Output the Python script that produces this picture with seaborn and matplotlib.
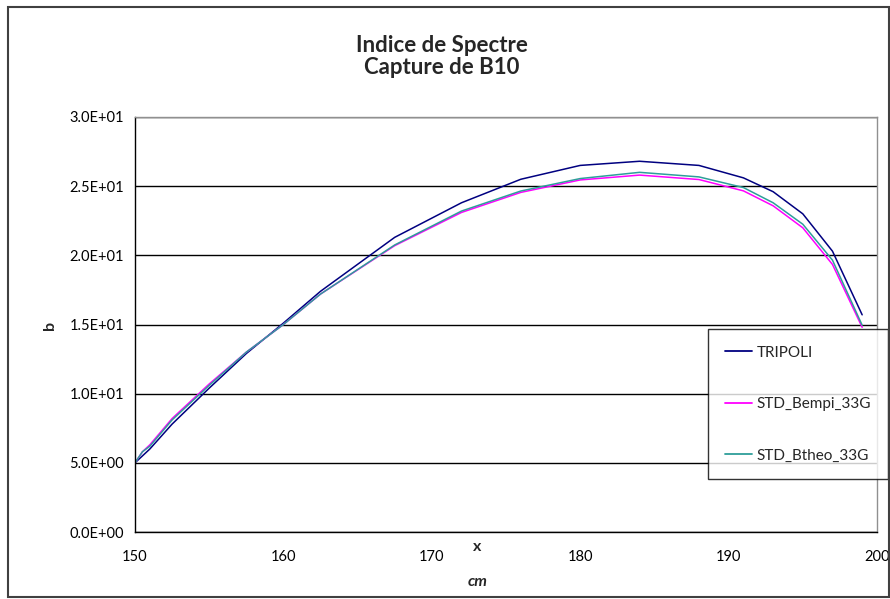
import pandas as pd
import seaborn as sns
import matplotlib.pyplot as plt
from matplotlib.patches import Rectangle
from matplotlib.ticker import FuncFormatter

# Data
x_cm = [150, 150.5, 151, 152.5, 155, 157.5, 160, 162.5, 167.5, 172, 176,
        180, 184, 188, 191, 193, 195, 197, 199]
tripoli = [5.0, 5.5, 6.0, 7.8, 10.4, 12.9, 15.1, 17.4, 21.3, 23.8, 25.5,
           26.5, 26.8, 26.5, 25.6, 24.6, 23.0, 20.3, 15.7]
bempi = [5.0, 5.8, 6.3, 8.2, 10.7, 13.0, 15.0, 17.2, 20.7, 23.1, 24.55,
         25.45, 25.8, 25.48, 24.66, 23.58, 21.99, 19.34, 14.8]
btheo = [5.0, 5.8, 6.2, 8.1, 10.6, 13.0, 15.0, 17.2, 20.75, 23.2, 24.65,
         25.55, 26.0, 25.67, 24.9, 23.8, 22.25, 19.65, 14.95]
series_names = ["TRIPOLI", "STD_Bempi_33G", "STD_Btheo_33G"]
colors = {"TRIPOLI": "#000080", "STD_Bempi_33G": "#FF00FF", "STD_Btheo_33G": "#2E9E9A"}

df = pd.concat([
    pd.DataFrame({"x": x_cm, "b": vals, "serie": name})
    for name, vals in zip(series_names, [tripoli, bempi, btheo])
])

sns.set_theme(style="white")
plt.rcParams['font.family'] = ['Lato', 'DejaVu Sans']

W, H = 890, 599
fig = plt.figure(figsize=(W / 100, H / 100), dpi=100)
ax = fig.add_axes([135 / W, 1 - 532 / H, (877 - 135) / W, (532 - 117) / H])

sns.lineplot(data=df, x="x", y="b", hue="serie", palette=colors,
             hue_order=series_names, linewidth=1.1, ax=ax, sort=False)

ax.set_xlim(150, 200)
ax.set_ylim(0, 30)
ax.set_xticks(range(150, 201, 10))
ax.set_yticks([0, 5, 10, 15, 20, 25, 30])
ax.yaxis.set_major_formatter(FuncFormatter(lambda v, p: f"{v:.1E}"))
ax.tick_params(axis="both", direction="out", length=5, width=1, color="black",
               labelsize=10.5, labelcolor="black", pad=3)
ax.tick_params(axis="x", pad=8)
ax.yaxis.grid(True, color="black", linewidth=1)
ax.set_axisbelow(True)
ax.set_xlabel("")
ax.set_ylabel("")
for side in ["left", "bottom"]:
    ax.spines[side].set_color("black")
    ax.spines[side].set_linewidth(1)
for side in ["top", "right"]:
    ax.spines[side].set_color("#909090")
    ax.spines[side].set_linewidth(1)

# titles and axis labels
fig.text(442 / W, 1 - 45 / H, "Indice de Spectre", ha="center", va="center",
         fontsize=16, fontweight="bold")
fig.text(442 / W, 1 - 67 / H, "Capture de B10", ha="center", va="center",
         fontsize=16, fontweight="bold")
fig.text(50 / W, 1 - 325 / H, "b", ha="center", va="center", rotation=90,
         fontsize=11.5, fontweight="bold")
fig.text(477 / W, 1 - 547 / H, "x", ha="center", va="center",
         fontsize=11.5, fontweight="bold")
fig.text(478 / W, 1 - 582 / H, "cm", ha="center", va="center",
         fontsize=11.5, fontweight="bold", style="italic")

leg = ax.legend(loc="upper left", bbox_to_anchor=(708 / W, 1 - 329 / H),
                bbox_transform=fig.transFigure, frameon=True, fancybox=False,
                edgecolor="black", fontsize=11, handlelength=1.75,
                handletextpad=0.35, labelspacing=2.45, borderpad=1.1,
                borderaxespad=0, title=None)
leg.get_frame().set_linewidth(1)
for line in leg.get_lines():
    line.set_linewidth(1.3)

# outer chart border
fig.patches.append(Rectangle((8 / W, 2 / H), 881 / W, 590 / H,
                             transform=fig.transFigure, fill=False,
                             edgecolor="#404040", linewidth=1.5))

fig.savefig("out.png", dpi=100)
